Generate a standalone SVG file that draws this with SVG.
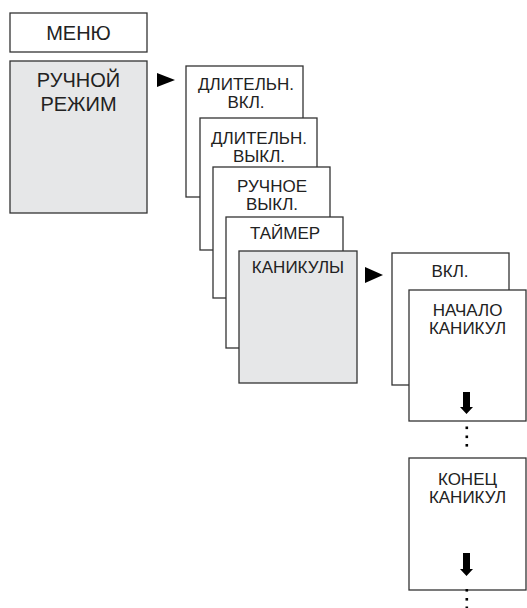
<svg xmlns="http://www.w3.org/2000/svg" width="527" height="608" viewBox="0 0 527 608">
<style>
.b{fill:#fff;stroke:#333;stroke-width:1.3}
.g{fill:#e6e7e8;stroke:#333;stroke-width:1.3}
.t{font-family:"Liberation Sans",Arial,sans-serif;font-size:17px;fill:#222;text-anchor:middle}
.L{font-size:20px}
.a{fill:#000}
</style>
<rect width="527" height="608" fill="#fff"/>
<g id="menu"><rect class="b" x="10" y="13" width="137" height="39"/><text class="t L" x="78.5" y="40">МЕНЮ</text></g>
<g id="manual"><rect class="g" x="10" y="61" width="137" height="152"/><text class="t L" x="78.5" y="87">РУЧНОЙ</text><text class="t L" x="78.5" y="111">РЕЖИМ</text></g>
<g id="on"><rect class="b" x="186" y="66" width="117" height="131"/><text class="t" x="246" y="90">ДЛИТЕЛЬН.</text><text class="t" x="246" y="108">ВКЛ.</text></g>
<g id="off"><rect class="b" x="200" y="118" width="117" height="132"/><text class="t" x="259" y="144">ДЛИТЕЛЬН.</text><text class="t" x="259" y="162">ВЫКЛ.</text></g>
<g id="manoff"><rect class="b" x="213" y="167" width="117" height="131"/><text class="t" x="272" y="192">РУЧНОЕ</text><text class="t" x="272" y="210">ВЫКЛ.</text></g>
<g id="timer"><rect class="b" x="226" y="217" width="117" height="131"/><text class="t" x="285" y="239">ТАЙМЕР</text></g>
<g id="holiday"><rect class="g" x="239" y="251" width="118" height="132"/><text class="t" x="298" y="273">КАНИКУЛЫ</text></g>
<g id="von"><rect class="b" x="392" y="253" width="117" height="132"/><text class="t" x="450" y="277">ВКЛ.</text></g>
<g id="start"><rect class="b" x="409" y="290" width="117" height="131"/><text class="t" x="467.5" y="316">НАЧАЛО</text><text class="t" x="467.5" y="334">КАНИКУЛ</text></g>
<g id="end"><rect class="b" x="409" y="458" width="117" height="132"/><text class="t" x="467.5" y="485">КОНЕЦ</text><text class="t" x="467.5" y="503">КАНИКУЛ</text></g>
<g id="connectors">
<polygon class="a" points="157,73 175,80 157,87"/>
<polygon class="a" points="365,267 383,275 365,283"/>
<polygon class="a" points="463,392 470,392 470,407 473,407 466.5,414 460,407 463,407"/>
<polygon class="a" points="463,553 470,553 470,569 473,569 466.5,576 460,569 463,569"/>
<g class="a"><rect x="465.5" y="426.5" width="2.6" height="2.6"/><rect x="465.5" y="435.5" width="2.6" height="2.6"/><rect x="465.5" y="444" width="2.6" height="2.6"/>
<rect x="465.5" y="589" width="2.6" height="2.6"/><rect x="465.5" y="598" width="2.6" height="2.6"/><rect x="465.5" y="606.5" width="2.6" height="2.6"/></g>
</g>
</svg>
